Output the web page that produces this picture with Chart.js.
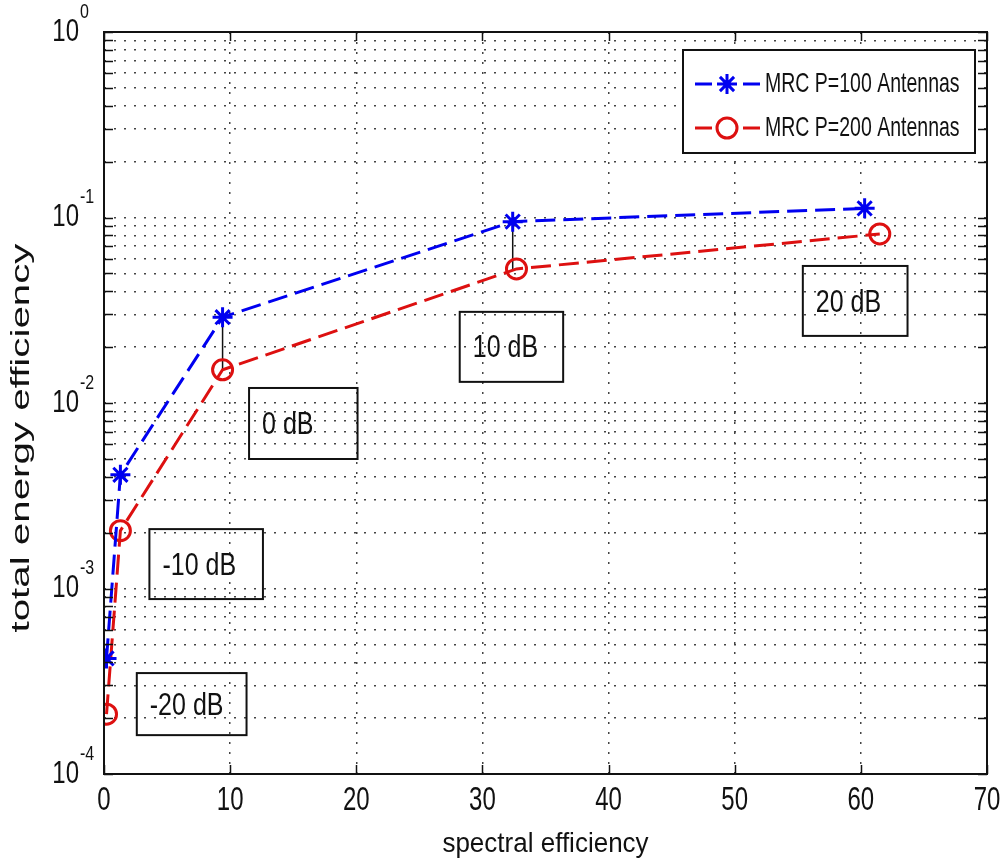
<!DOCTYPE html>
<html>
<head>
<meta charset="utf-8">
<script src="https://cdn.jsdelivr.net/npm/chart.js@4/dist/chart.umd.min.js"></script>
<style>
  html, body { margin: 0; padding: 0; background: #fff; }
  canvas { display: block; }
</style>
</head>
<body>
<canvas id="eeChart" width="1005" height="868"></canvas>
<script>
// Data
const snrLabels = ['-20 dB', '-10 dB', '0 dB', '10 dB', '20 dB'];
const seP100 = [0.2, 1.3, 9.4, 32.4, 60.3];
const eeP100 = [4.2e-4, 4.1e-3, 0.029, 0.095, 0.112];
const seP200 = [0.2, 1.3, 9.4, 32.7, 61.5];
const eeP200 = [2.1e-4, 2.05e-3, 0.0151, 0.0528, 0.0815];
const seriesNames = ['MRC P=100 Antennas', 'MRC P=200 Antennas'];

// Axis ticks
const xTicks = [0, 10, 20, 30, 40, 50, 60, 70];
const yDecades = [1e-4, 1e-3, 1e-2, 1e-1, 1];
const yExponents = ['-4', '-3', '-2', '-1', '0'];

// Text boxes (data units): left, right, top, bottom
const noteX0 = [2.6, 3.6, 11.5, 28.2, 55.4];
const noteX1 = [11.3, 12.6, 20.1, 36.4, 63.7];
const noteYTop = [3.5e-4, 2.09e-3, 0.01205, 0.031, 0.0548];
const noteYBot = [1.62e-4, 8.77e-4, 4.99e-3, 0.013, 0.023];
// points where a thin black line joins the two curves
const connectorIdx = [2, 3];

const BLUE = '#0000f0';
const RED = '#dd1010';
const INK = '#111';

function toXY(xs, ys) {
    return xs.map((x, i) => ({ x: x, y: ys[i] }));
}

// Build every minor/major tick on the log axis
function logTicks() {
    const out = [];
    for (let k = 0; k < yDecades.length - 1; k++) {
        for (let m = 1; m <= 9; m++) out.push(m * yDecades[k]);
    }
    out.push(yDecades[yDecades.length - 1]);
    return out;
}

function stretchText(ctx, str, x, y, size, sy, align) {
    ctx.save();
    ctx.translate(x, y);
    ctx.scale(1, sy);
    ctx.font = size + 'px "Liberation Sans", Arial, sans-serif';
    ctx.textAlign = align;
    ctx.textBaseline = 'middle';
    ctx.fillStyle = INK;
    ctx.fillText(str, 0, 0);
    ctx.restore();
}

const matlabFrame = {
    id: 'matlabFrame',
    beforeDatasetsDraw(chart) {
        const ctx = chart.ctx;
        const xs = chart.scales.x, ys = chart.scales.y;
        ctx.save();
        ctx.strokeStyle = INK;
        ctx.lineWidth = 1.5;
        connectorIdx.forEach(i => {
            const px = xs.getPixelForValue(seP100[i]);
            ctx.beginPath();
            ctx.moveTo(px, ys.getPixelForValue(eeP100[i]));
            ctx.lineTo(px, ys.getPixelForValue(eeP200[i]));
            ctx.stroke();
        });
        ctx.restore();
    },
    afterDatasetsDraw(chart) {
        const ctx = chart.ctx;
        const a = chart.chartArea;
        const xs = chart.scales.x, ys = chart.scales.y;
        ctx.save();

        // text boxes
        ctx.strokeStyle = INK;
        ctx.lineWidth = 2;
        snrLabels.forEach((lab, i) => {
            const l = xs.getPixelForValue(noteX0[i]);
            const r = xs.getPixelForValue(noteX1[i]);
            const t = ys.getPixelForValue(noteYTop[i]);
            const b = ys.getPixelForValue(noteYBot[i]);
            ctx.strokeRect(l, t, r - l, b - t);
            stretchText(ctx, lab, l + 13, (t + b) / 2 + 2, 25, 1.25, 'left');
        });

        // tick marks (inward, all four sides)
        ctx.lineWidth = 1.5;
        ctx.beginPath();
        logTicks().forEach(v => {
            const py = Math.round(ys.getPixelForValue(v)) + 0.5;
            ctx.moveTo(a.left, py); ctx.lineTo(a.left + 9, py);
            ctx.moveTo(a.right, py); ctx.lineTo(a.right - 9, py);
        });
        xTicks.forEach(v => {
            const px = Math.round(xs.getPixelForValue(v)) + 0.5;
            ctx.moveTo(px, a.bottom); ctx.lineTo(px, a.bottom - 9);
            ctx.moveTo(px, a.top); ctx.lineTo(px, a.top + 9);
        });
        ctx.stroke();

        // box
        ctx.lineWidth = 2;
        ctx.strokeRect(a.left, a.top, a.right - a.left, a.bottom - a.top);

        // x tick labels
        xTicks.forEach(v => {
            stretchText(ctx, String(v), xs.getPixelForValue(v), a.bottom + 27, 24, 1.4, 'center');
        });
        // y tick labels 10^k
        yDecades.forEach((v, i) => {
            const py = ys.getPixelForValue(v);
            stretchText(ctx, '10', a.left - 25, py, 24, 1.3, 'right');
            stretchText(ctx, yExponents[i], a.left - 24, py - 20, 16, 1.3, 'left');
        });

        // axis titles
        stretchText(ctx, 'spectral efficiency', (a.left + a.right) / 2, a.bottom + 70, 26, 1.05, 'center');
        ctx.save();
        ctx.translate(22, (a.top + a.bottom) / 2 + 35);
        ctx.rotate(-Math.PI / 2);
        ctx.scale(1.55, 1);
        ctx.font = '26px "Liberation Sans", Arial, sans-serif';
        ctx.textAlign = 'center';
        ctx.textBaseline = 'middle';
        ctx.fillStyle = INK;
        ctx.fillText('total energy efficiency', 0, 0);
        ctx.restore();

        // legend
        const lw = 292, lh = 103;
        const lx = a.right - 12 - lw, ly = a.top + 18;
        ctx.fillStyle = '#fff';
        ctx.fillRect(lx, ly, lw, lh);
        ctx.strokeStyle = INK;
        ctx.lineWidth = 2;
        ctx.strokeRect(lx, ly, lw, lh);
        chart.data.datasets.forEach((ds, i) => {
            const ry = ly + 34 + i * 44;
            ctx.strokeStyle = ds.borderColor;
            ctx.lineWidth = 3;
            ctx.beginPath();
            ctx.moveTo(lx + 12, ry); ctx.lineTo(lx + 29, ry);
            ctx.moveTo(lx + 60, ry); ctx.lineTo(lx + 77, ry);
            ctx.stroke();
            ctx.fillStyle = 'rgba(0,0,0,0)';
            Chart.helpers.drawPoint(ctx, {
                pointStyle: ds.pointStyle, radius: ds.pointRadius,
                borderWidth: ds.pointBorderWidth, rotation: 0
            }, lx + 44, ry);
            stretchText(ctx, seriesNames[i], lx + 82, ry, 19.5, 1.45, 'left');
        });

        ctx.restore();
    }
};

const gridStyle = { color: '#444', lineWidth: 1.5, drawTicks: false };
const dotBorder = { display: false, dash: [2, 8] };

new Chart(document.getElementById('eeChart'), {
    type: 'line',
    data: {
        datasets: [
            {
                label: seriesNames[0],
                data: toXY(seP100, eeP100),
                borderColor: BLUE,
                backgroundColor: BLUE,
                borderWidth: 3,
                borderDash: [20, 8],
                pointStyle: 'star',
                pointRadius: 10,
                pointBorderWidth: 3,
                pointBorderColor: BLUE,
                tension: 0
            },
            {
                label: seriesNames[1],
                data: toXY(seP200, eeP200),
                borderColor: RED,
                backgroundColor: 'rgba(0,0,0,0)',
                borderWidth: 3,
                borderDash: [20, 8],
                pointStyle: 'circle',
                pointRadius: 10,
                pointBorderWidth: 3,
                pointBorderColor: RED,
                pointBackgroundColor: 'rgba(0,0,0,0)',
                tension: 0
            }
        ]
    },
    options: {
        responsive: false,
        animation: false,
        layout: { padding: { left: 104, top: 32, right: 18, bottom: 94 } },
        plugins: {
            legend: { display: false },
            tooltip: { enabled: false }
        },
        scales: {
            x: {
                type: 'linear',
                min: 0,
                max: 70,
                afterBuildTicks: s => { s.ticks = xTicks.map(v => ({ value: v })); },
                ticks: { display: false },
                grid: gridStyle,
                border: dotBorder
            },
            y: {
                type: 'logarithmic',
                min: 1e-4,
                max: 1,
                afterBuildTicks: s => { s.ticks = logTicks().map(v => ({ value: v })); },
                ticks: { display: false },
                grid: gridStyle,
                border: dotBorder
            }
        }
    },
    plugins: [matlabFrame]
});
</script>
</body>
</html>
